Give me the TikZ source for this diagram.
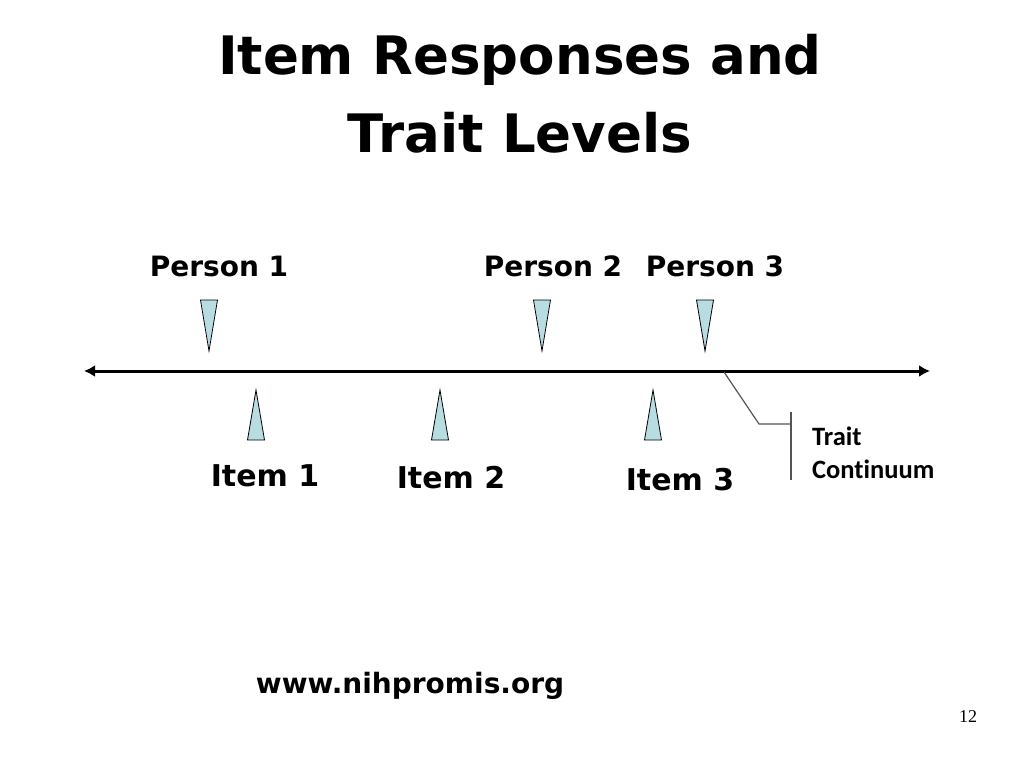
\documentclass[tikz,border=0pt]{standalone}
\usepackage{fontspec}
\setmainfont{DejaVu Sans}
\newfontfamily\calfont[Ligatures=NoCommon]{Carlito}
\newfontfamily\timesfont{Liberation Serif}
\usetikzlibrary{arrows.meta}
\definecolor{triblue}{RGB}{183,221,224}
\definecolor{callgray}{RGB}{85,85,85}

\begin{document}
\begin{tikzpicture}[x=1pt,y=-1pt,
  lbl/.style={font=\fontsize{28}{32}\selectfont\bfseries, inner sep=0pt},
  tri/.style={draw=black, line width=0.8pt, fill=triblue},
  callout/.style={draw=callgray, line width=1.2pt}]
  \useasboundingbox (0,0) rectangle (1024,768);
  \node[font=\fontsize{53}{78}\selectfont\bfseries, align=center, inner sep=0pt] (title) at (520,94) {Item Responses and\\Trait Levels};
  % trait axis
  \coordinate (left) at (84,371);
  \coordinate (right) at (930,371);
  \draw[line width=3pt, {Latex[length=11pt,width=12pt]}-{Latex[length=11pt,width=12pt]}] (left) -- (right);
  % persons above the axis
  \foreach \n/\x/\lx in {1/209/219, 2/542/553, 3/705/715}
  {
    \node[lbl] (person\n) at (\lx,266) {Person \n};
    \draw[tri] (\x-8.5,300) -- (\x+8.5,300) -- (\x,351) -- cycle;
  }
  % items below the axis
  \foreach \n/\x/\lx/\ly in {1/256/265/476, 2/440/451/478, 3/653/680/480}
  {
    \node[lbl, font=\fontsize{30}{34}\selectfont\bfseries] (item\n) at (\lx,\ly) {Item \n};
    \draw[tri] (\x-8.5,440) -- (\x+8.5,440) -- (\x,390) -- cycle;
  }
  % callout
  \coordinate (tip) at (724,372);
  \coordinate (knee) at (759,424);
  \coordinate (bartop) at (791,412);
  \coordinate (barbot) at (791,480);
  \node[font=\calfont\fontsize{26.5}{33}\selectfont\bfseries, align=left, anchor=west, inner sep=0pt] (trait) at (812,453) {Trait\\Continuum};
  \draw[callout] (tip) -- (knee) -- (knee -| bartop);
  \draw[callout] (bartop) -- (barbot);
  \node[lbl] (web) at (410,686) {www.nihpromis.org};
  \node[font=\timesfont\fontsize{18}{20}\selectfont, inner sep=0pt] (page) at (968,717) {12};
\end{tikzpicture}
\end{document}
